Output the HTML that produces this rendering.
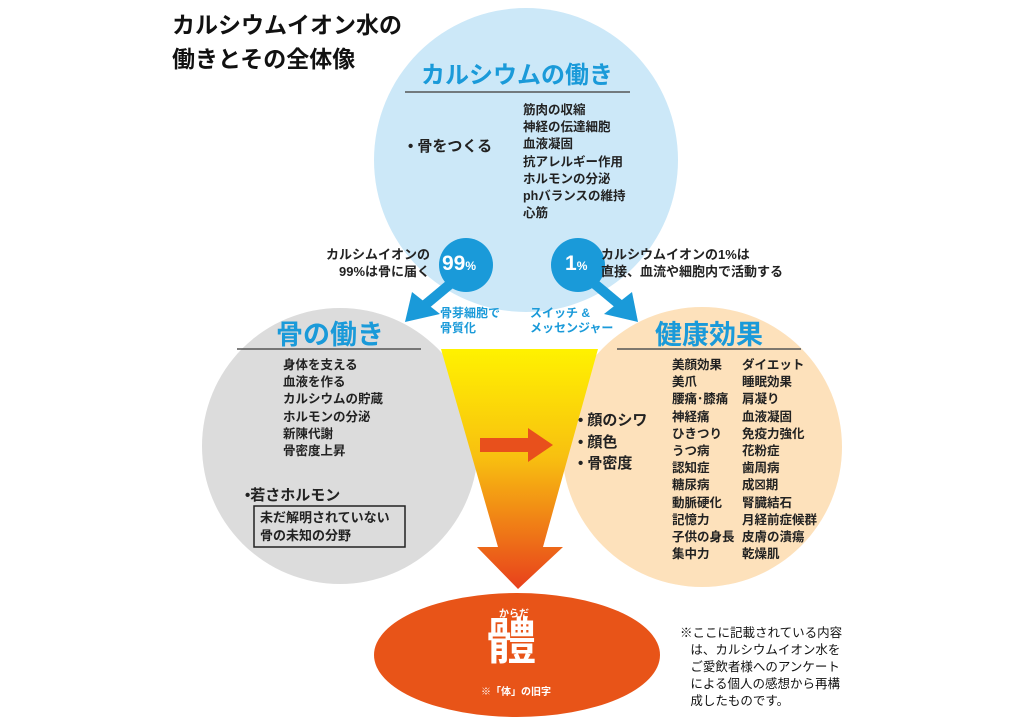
<!DOCTYPE html>
<html><head><meta charset="utf-8"><style>
body{margin:0;width:1024px;height:725px;background:#fff;overflow:hidden;position:relative;font-family:"Liberation Sans","Noto Sans CJK JP",sans-serif;font-weight:bold;color:#222}
.a{position:absolute;white-space:nowrap}
.l{font-size:12.5px;line-height:17.2px}
.h{color:#1a9ad9;font-size:27px}
</style></head><body>
<svg width="1024" height="725" style="position:absolute;left:0;top:0">
<defs>
<linearGradient id="g" x1="0" y1="0" x2="0" y2="1">
<stop offset="0" stop-color="#fff200"/><stop offset="0.45" stop-color="#f8c010"/><stop offset="1" stop-color="#e8401c"/></linearGradient>
</defs>
<circle cx="526" cy="160" r="152" fill="#cce8f8"/>
<circle cx="340" cy="446" r="138" fill="#dcdcdc"/>
<circle cx="702" cy="447" r="140" fill="#fde1bb"/>
<polygon points="441,349 598,349 543,547 563,547 518,589 477,547 498,547" fill="url(#g)"/>
<polygon points="480,438 528,438 528,428 553,445 528,462 528,452 480,452" fill="#e8501c"/>
<ellipse cx="517" cy="655" rx="143" ry="62" fill="#e85418"/>
<line x1="405" y1="92" x2="630" y2="92" stroke="#555" stroke-width="1.5"/>
<line x1="237" y1="349" x2="421" y2="349" stroke="#555" stroke-width="1.5"/>
<line x1="617" y1="349" x2="801" y2="349" stroke="#555" stroke-width="1.5"/>
<g fill="#1a9ad9" stroke="#1a9ad9">
<line x1="455" y1="280" x2="425" y2="305" stroke-width="10"/>
<polygon points="405,322 412,292 440,314" stroke="none"/>
<line x1="590" y1="280" x2="620" y2="305" stroke-width="10"/>
<polygon points="638,322 632,292 604,314" stroke="none"/>
<circle cx="466" cy="265" r="27" stroke="none"/>
<circle cx="578" cy="265" r="27" stroke="none"/>
</g>
<rect x="254" y="506" width="151" height="41" fill="none" stroke="#222" stroke-width="1.5"/>
</svg>
<div class="a" style="left:172px;top:8px;font-size:23px;line-height:34px;color:#111">カルシウムイオン水の<br>働きとその全体像</div>
<div class="a h" style="left:421px;top:55px;font-size:24px">カルシウムの働き</div>
<div class="a" style="left:408px;top:135px;font-size:15px">• 骨をつくる</div>
<div class="a l" style="left:523px;top:102px">筋肉の収縮<br>神経の伝達細胞<br>血液凝固<br>抗アレルギー作用<br>ホルモンの分泌<br>phバランスの維持<br>心筋</div>
<div class="a l" style="left:326px;top:246px;text-align:right;font-size:13px">カルシムイオンの<br>99%は骨に届く</div>
<div class="a l" style="left:601px;top:246px;font-size:13px">カルシウムイオンの1%は<br>直接、血流や細胞内で活動する</div>
<div class="a" style="left:442px;top:252px;color:#fff;font-size:21px">99<span style="font-size:12px">%</span></div>
<div class="a" style="left:565px;top:252px;color:#fff;font-size:21px">1<span style="font-size:12px">%</span></div>
<div class="a" style="left:440px;top:306px;color:#1a9ad9;font-size:12px;line-height:15px">骨芽細胞で<br>骨質化</div>
<div class="a" style="left:530px;top:306px;color:#1a9ad9;font-size:12px;line-height:15px">スイッチ &amp;<br>メッセンジャー</div>
<div class="a h" style="left:276px;top:313px">骨の働き</div>
<div class="a h" style="left:655px;top:313px">健康効果</div>
<div class="a l" style="left:283px;top:357px">身体を支える<br>血液を作る<br>カルシウムの貯蔵<br>ホルモンの分泌<br>新陳代謝<br>骨密度上昇</div>
<div class="a" style="left:245px;top:484px;font-size:15px">•若さホルモン</div>
<div class="a" style="left:260px;top:509px;font-size:13px;line-height:18px">未だ解明されていない<br>骨の未知の分野</div>
<div class="a" style="left:578px;top:410px;font-size:15px;line-height:21.5px">• 顔のシワ<br>• 顔色<br>• 骨密度</div>
<div class="a l" style="left:672px;top:357px">美顔効果<br>美爪<br>腰痛･膝痛<br>神経痛<br>ひきつり<br>うつ病<br>認知症<br>糖尿病<br>動脈硬化<br>記憶力<br>子供の身長<br>集中力</div>
<div class="a l" style="left:742px;top:357px">ダイエット<br>睡眠効果<br>肩凝り<br>血液凝固<br>免疫力強化<br>花粉症<br>歯周病<br>成☒期<br>腎臓結石<br>月経前症候群<br>皮膚の潰瘍<br>乾燥肌</div>
<div class="a" style="left:499px;top:605px;color:#fff;font-size:10px">からだ</div>
<div class="a" style="left:486px;top:612px;color:#fff;font-size:50px;line-height:60px">體</div>
<div class="a" style="left:481px;top:683px;color:#fff;font-size:10px">※「体」の旧字</div>
<div class="a" style="left:680px;top:625px;font-size:12.5px;line-height:17px;font-weight:normal;color:#111">※ここに記載されている内容<br>&nbsp;&nbsp;&nbsp;は、カルシウムイオン水を<br>&nbsp;&nbsp;&nbsp;ご愛飲者様へのアンケート<br>&nbsp;&nbsp;&nbsp;による個人の感想から再構<br>&nbsp;&nbsp;&nbsp;成したものです。</div>
</body></html>
